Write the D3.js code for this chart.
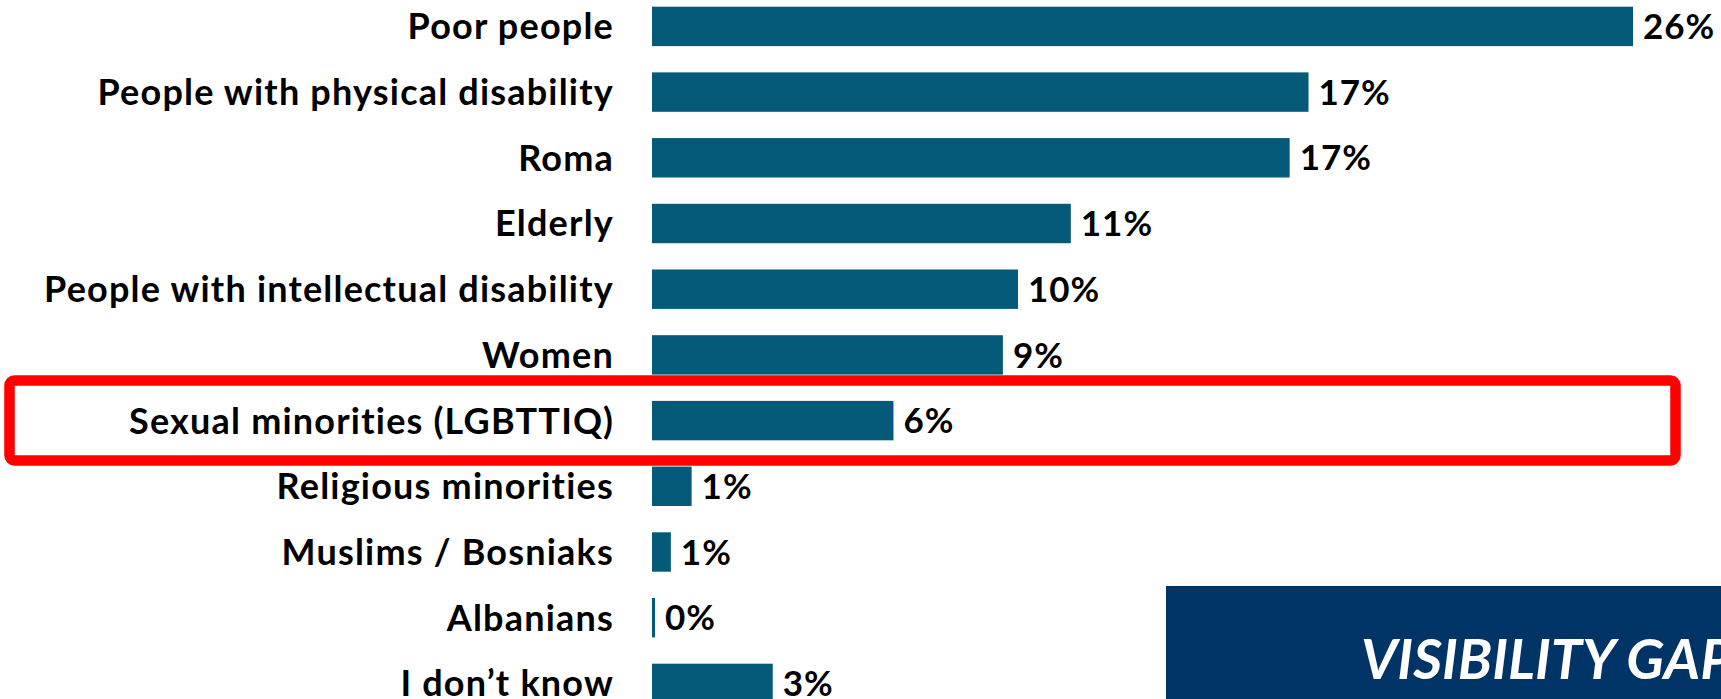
<!DOCTYPE html>
<meta charset="utf-8">
<script src="https://cdn.jsdelivr.net/npm/d3@7"></script>
<style>
  body { margin: 0; background: #fff; }
  svg text { font-family: Lato, "Open Sans", sans-serif; font-weight: bold; }
</style>

<svg id="graph" width="1721" height="699"></svg>

<script>

// groups, top to bottom
var groups = ["Poor people", "People with physical disability", "Roma", "Elderly",
  "People with intellectual disability", "Women", "Sexual minorities (LGBTTIQ)",
  "Religious minorities", "Muslims / Bosniaks", "Albanians", "I don\u2019t know"];

// share of answers (%)
var shares = [26, 17.4, 16.9, 11.1, 9.7, 9.3, 6.4, 1.05, 0.5, 0.08, 3.2];

// shown labels
var shareLabels = ["26%", "17%", "17%", "11%", "10%", "9%", "6%", "1%", "1%", "0%", "3%"];

var highlight = "Sexual minorities (LGBTTIQ)";
var calloutText = "VISIBILITY GAP";

var svg = d3.select("svg"),
    width = +svg.attr("width"),
    height = +svg.attr("height");

var x = d3.scaleLinear().domain([0, 26]).range([652, 1633]);

var y = d3.scaleBand()
    .domain(groups)
    .range([-6.45, 716.25])
    .paddingInner(0.4)
    .paddingOuter(0.2);

var rows = groups.map(function(g, i) { return {name: g, value: shares[i], label: shareLabels[i]}; });

// highlight frame round one row
var hy = y(highlight) + y.bandwidth() / 2;
svg.append("rect")
    .attr("x", 9.5)
    .attr("y", hy - 40)
    .attr("width", 1666)
    .attr("height", 80)
    .attr("rx", 5)
    .attr("fill", "none")
    .attr("stroke", "#ff0000")
    .attr("stroke-width", 10.5);

svg.selectAll(".bar")
    .data(rows)
  .enter().append("rect")
    .attr("class", "bar")
    .attr("x", x(0))
    .attr("y", function(d) { return y(d.name); })
    .attr("width", function(d) { return Math.max(2, x(d.value) - x(0)); })
    .attr("height", y.bandwidth())
    .attr("fill", "#045a78");

svg.selectAll(".cat")
    .data(rows)
  .enter().append("text")
    .attr("class", "cat")
    .attr("x", 614)
    .attr("y", function(d) { return y(d.name) + y.bandwidth() / 2; })
    .attr("dy", "0.36em")
    .attr("text-anchor", "end")
    .style("font-size", "36px")
    .style("letter-spacing", "1.2px")
    .attr("fill", "#000")
    .text(function(d) { return d.name; });

svg.selectAll(".val")
    .data(rows)
  .enter().append("text")
    .attr("class", "val")
    .attr("x", function(d) { return Math.max(x(d.value), x(0) + 2) + 10; })
    .attr("y", function(d) { return y(d.name) + y.bandwidth() / 2; })
    .attr("dy", "0.36em")
    .style("font-size", "35px")
    .style("letter-spacing", "1px")
    .attr("fill", "#000")
    .text(function(d) { return d.label; });

// callout box in the corner
svg.append("rect")
    .attr("x", 1166)
    .attr("y", 586)
    .attr("width", width - 1166)
    .attr("height", height - 586)
    .attr("fill", "#003366");

svg.append("text")
    .attr("x", 1361)
    .attr("y", 679)
    .style("font-size", "56px")
    .style("font-style", "italic")
    .attr("fill", "#fff")
    .text(calloutText);

</script>
